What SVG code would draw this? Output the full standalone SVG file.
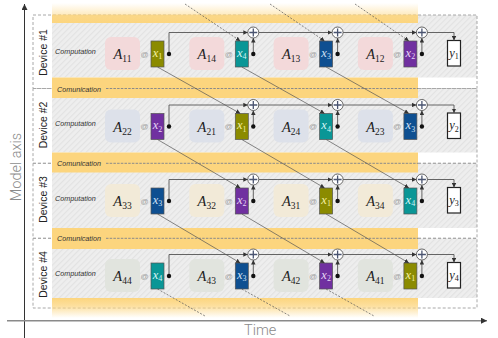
<svg xmlns="http://www.w3.org/2000/svg" width="498" height="338" viewBox="0 0 498 338">
<style>
.box{fill:none;stroke:#a8a8a8;stroke-width:1;stroke-dasharray:3 2}
.gray{fill:url(#hatch)}
.comm{fill:#fcd57e}
.cdash{stroke:#8a8a8a;stroke-width:1;stroke-dasharray:2.5 1.2;fill:none}
.lbl{font-family:"Liberation Sans",Arial,sans-serif;font-style:italic;font-size:7.2px;fill:#333}
.dev{font-family:"Liberation Sans",Arial,sans-serif;font-size:10.5px;fill:#222}
.ax{font-family:Roboto,"Liberation Sans",sans-serif;font-weight:300;font-size:14.5px;fill:#8a8a8a}
.m{font-family:"Liberation Serif","Times New Roman",serif;font-style:italic;font-size:14.5px;fill:#222}
.s{font-size:9.5px;font-style:normal}
.xs{font-size:8px;font-style:normal}
.xl{font-family:"Liberation Serif","Times New Roman",serif;font-style:italic;font-size:12.5px}
.at{font-family:"Liberation Sans",Arial,sans-serif;font-size:8px;fill:#a0a0a0}
.r1{fill:#f3d9da}.r2{fill:#dde1ea}.r3{fill:#f2ead8}.r4{fill:#e1e4de}
.v1{fill:#8b8b00}.v2{fill:#7030a0}.v3{fill:#0e4f91}.v4{fill:#0a9696}
.t1{fill:#f4f0a0}.t2{fill:#e6d6f5}.t3{fill:#cfe0f5}.t4{fill:#d6f5f5}
.vec{stroke:#555;stroke-width:0.7}
.dot{fill:#111}
.plus circle{fill:#fff;stroke:#555;stroke-width:0.9}
.plus path{stroke:#4a5470;stroke-width:1.3;fill:none}
.ybox{fill:#fff;stroke:#222;stroke-width:1.2}
.ln{fill:none;stroke:#555;stroke-width:0.9;marker-end:url(#arr)}
.dg{fill:none;stroke:#555;stroke-width:0.7;marker-end:url(#arr)}
.dgd{fill:none;stroke:#555;stroke-width:0.7;stroke-dasharray:2 1.5}
</style>
<defs>
<pattern id="hatch" width="4" height="4" patternUnits="userSpaceOnUse" patternTransform="rotate(45)">
<rect width="4" height="4" fill="#eeeeee"/>
<line x1="0.5" y1="0" x2="0.5" y2="4" stroke="#e2e2e2" stroke-width="1.2"/>
</pattern>
<linearGradient id="gTop" x1="0" y1="0" x2="0" y2="1">
<stop offset="0" stop-color="#fcd57e" stop-opacity="0"/>
<stop offset="0.55" stop-color="#fcd57e" stop-opacity="0.45"/>
<stop offset="0.62" stop-color="#fcd57e" stop-opacity="0.9"/>
<stop offset="1" stop-color="#fcd57e" stop-opacity="1"/>
</linearGradient>
<linearGradient id="gBot" x1="0" y1="0" x2="0" y2="1">
<stop offset="0" stop-color="#fcd57e" stop-opacity="1"/>
<stop offset="0.4" stop-color="#fcd57e" stop-opacity="0.75"/>
<stop offset="1" stop-color="#fcd57e" stop-opacity="0"/>
</linearGradient>
<marker id="arr" viewBox="0 0 6 6" refX="6" refY="3" markerWidth="4.5" markerHeight="4.5" markerUnits="userSpaceOnUse" orient="auto">
<path d="M0,0 L6,3 L0,6 z" fill="#333"/>
</marker>
<marker id="axarr" viewBox="0 0 8 8" refX="8" refY="4" markerWidth="6" markerHeight="6" markerUnits="userSpaceOnUse" orient="auto">
<path d="M0,0 L8,4 L0,8 z" fill="#333"/>
</marker>
</defs>

<g id="background">
<rect class="gray" x="52" y="15" width="425" height="62.5"/>
<rect class="gray" x="52" y="88.5" width="425" height="64"/>
<rect class="gray" x="52" y="163.3" width="425" height="64.7"/>
<rect class="gray" x="52" y="238.3" width="425" height="59.7"/>
</g>

<g id="devices">
<g id="device1"><rect class="box" x="33" y="15" width="444" height="73.5"/><text class="dev" transform="translate(47,52.5) rotate(-90)" text-anchor="middle">Device #1</text></g>
<g id="device2"><rect class="box" x="33" y="88.5" width="444" height="74.8"/><text class="dev" transform="translate(47,125) rotate(-90)" text-anchor="middle">Device #2</text></g>
<g id="device3"><rect class="box" x="33" y="163.3" width="444" height="75"/><text class="dev" transform="translate(47,199.5) rotate(-90)" text-anchor="middle">Device #3</text></g>
<g id="device4"><rect class="box" x="33" y="238.3" width="444" height="69.7"/><text class="dev" transform="translate(47,274.5) rotate(-90)" text-anchor="middle">Device #4</text></g>
</g>

<g id="communication">
<rect x="52" y="3" width="366" height="20" fill="url(#gTop)"/>
<rect class="comm" x="52" y="77.5" width="366" height="20.5"/>
<rect class="comm" x="52" y="152.5" width="366" height="20"/>
<rect class="comm" x="52" y="228" width="366" height="21"/>
<rect x="52" y="298" width="366" height="20" fill="url(#gBot)"/>
<path class="cdash" d="M106,88.5 H418 M106,163.3 H418 M106,238.3 H418"/>
<text class="lbl" x="57" y="91.5">Comunication</text>
<text class="lbl" x="57" y="165.8">Comunication</text>
<text class="lbl" x="57" y="240.8">Comunication</text>
</g>

<g id="computation-labels">
<text class="lbl" x="55" y="53.5">Computation</text>
<text class="lbl" x="55" y="126">Computation</text>
<text class="lbl" x="55" y="200.5">Computation</text>
<text class="lbl" x="55" y="275.5">Computation</text>
</g>

<g id="A11"><rect class="r1" x="105" y="37" width="35" height="33" rx="6"/><text class="m" x="122.5" y="59" text-anchor="middle">A<tspan class="s" dy="3">11</tspan></text></g>
<g id="A14"><rect class="r1" x="189.3" y="37" width="35" height="33" rx="6"/><text class="m" x="206.8" y="59" text-anchor="middle">A<tspan class="s" dy="3">14</tspan></text></g>
<g id="A13"><rect class="r1" x="273.6" y="37" width="35" height="33" rx="6"/><text class="m" x="291.1" y="59" text-anchor="middle">A<tspan class="s" dy="3">13</tspan></text></g>
<g id="A12"><rect class="r1" x="357.9" y="37" width="35" height="33" rx="6"/><text class="m" x="375.4" y="59" text-anchor="middle">A<tspan class="s" dy="3">12</tspan></text></g>
<g id="d1-ats"><text class="at" x="144.5" y="56.5" text-anchor="middle">@</text><text class="at" x="228.8" y="56.5" text-anchor="middle">@</text><text class="at" x="313.1" y="56.5" text-anchor="middle">@</text><text class="at" x="397.4" y="56.5" text-anchor="middle">@</text></g>
<g id="d1-x1"><rect class="vec v1" x="151" y="41" width="13" height="26"/><text class="xl t1" x="157.5" y="56.5" text-anchor="middle">x<tspan class="xs" dy="2.5">1</tspan></text></g>
<g id="d1-x4"><rect class="vec v4" x="235.3" y="41" width="13" height="26"/><text class="xl t4" x="241.8" y="56.5" text-anchor="middle">x<tspan class="xs" dy="2.5">4</tspan></text></g>
<g id="d1-x3"><rect class="vec v3" x="319.6" y="41" width="13" height="26"/><text class="xl t3" x="326.1" y="56.5" text-anchor="middle">x<tspan class="xs" dy="2.5">3</tspan></text></g>
<g id="d1-x2"><rect class="vec v2" x="403.9" y="41" width="13" height="26"/><text class="xl t2" x="410.4" y="56.5" text-anchor="middle">x<tspan class="xs" dy="2.5">2</tspan></text></g>
<g id="d1-plus1" class="plus"><circle cx="253.3" cy="32.5" r="5.5"/><path d="M249.3,32.5 H257.3 M253.3,28.5 V36.5"/></g>
<g id="d1-plus2" class="plus"><circle cx="337.6" cy="32.5" r="5.5"/><path d="M333.6,32.5 H341.6 M337.6,28.5 V36.5"/></g>
<g id="d1-plus3" class="plus"><circle cx="421.9" cy="32.5" r="5.5"/><path d="M417.9,32.5 H425.9 M421.9,28.5 V36.5"/></g>
<g id="y1"><rect class="ybox" x="447.5" y="40.5" width="13" height="25.5"/><text class="xl" fill="#222" x="454" y="56.5" text-anchor="middle">y<tspan class="xs" dy="2.5">1</tspan></text></g>

<g id="A22"><rect class="r2" x="105" y="109.5" width="35" height="33" rx="6"/><text class="m" x="122.5" y="131.5" text-anchor="middle">A<tspan class="s" dy="3">22</tspan></text></g>
<g id="A21"><rect class="r2" x="189.3" y="109.5" width="35" height="33" rx="6"/><text class="m" x="206.8" y="131.5" text-anchor="middle">A<tspan class="s" dy="3">21</tspan></text></g>
<g id="A24"><rect class="r2" x="273.6" y="109.5" width="35" height="33" rx="6"/><text class="m" x="291.1" y="131.5" text-anchor="middle">A<tspan class="s" dy="3">24</tspan></text></g>
<g id="A23"><rect class="r2" x="357.9" y="109.5" width="35" height="33" rx="6"/><text class="m" x="375.4" y="131.5" text-anchor="middle">A<tspan class="s" dy="3">23</tspan></text></g>
<g id="d2-ats"><text class="at" x="144.5" y="129" text-anchor="middle">@</text><text class="at" x="228.8" y="129" text-anchor="middle">@</text><text class="at" x="313.1" y="129" text-anchor="middle">@</text><text class="at" x="397.4" y="129" text-anchor="middle">@</text></g>
<g id="d2-x2"><rect class="vec v2" x="151" y="113.5" width="13" height="26"/><text class="xl t2" x="157.5" y="129" text-anchor="middle">x<tspan class="xs" dy="2.5">2</tspan></text></g>
<g id="d2-x1"><rect class="vec v1" x="235.3" y="113.5" width="13" height="26"/><text class="xl t1" x="241.8" y="129" text-anchor="middle">x<tspan class="xs" dy="2.5">1</tspan></text></g>
<g id="d2-x4"><rect class="vec v4" x="319.6" y="113.5" width="13" height="26"/><text class="xl t4" x="326.1" y="129" text-anchor="middle">x<tspan class="xs" dy="2.5">4</tspan></text></g>
<g id="d2-x3"><rect class="vec v3" x="403.9" y="113.5" width="13" height="26"/><text class="xl t3" x="410.4" y="129" text-anchor="middle">x<tspan class="xs" dy="2.5">3</tspan></text></g>
<g id="d2-plus1" class="plus"><circle cx="253.3" cy="105" r="5.5"/><path d="M249.3,105 H257.3 M253.3,101 V109"/></g>
<g id="d2-plus2" class="plus"><circle cx="337.6" cy="105" r="5.5"/><path d="M333.6,105 H341.6 M337.6,101 V109"/></g>
<g id="d2-plus3" class="plus"><circle cx="421.9" cy="105" r="5.5"/><path d="M417.9,105 H425.9 M421.9,101 V109"/></g>
<g id="y2"><rect class="ybox" x="447.5" y="113" width="13" height="25.5"/><text class="xl" fill="#222" x="454" y="129" text-anchor="middle">y<tspan class="xs" dy="2.5">2</tspan></text></g>

<g id="A33"><rect class="r3" x="105" y="184" width="35" height="33" rx="6"/><text class="m" x="122.5" y="206" text-anchor="middle">A<tspan class="s" dy="3">33</tspan></text></g>
<g id="A32"><rect class="r3" x="189.3" y="184" width="35" height="33" rx="6"/><text class="m" x="206.8" y="206" text-anchor="middle">A<tspan class="s" dy="3">32</tspan></text></g>
<g id="A31"><rect class="r3" x="273.6" y="184" width="35" height="33" rx="6"/><text class="m" x="291.1" y="206" text-anchor="middle">A<tspan class="s" dy="3">31</tspan></text></g>
<g id="A34"><rect class="r3" x="357.9" y="184" width="35" height="33" rx="6"/><text class="m" x="375.4" y="206" text-anchor="middle">A<tspan class="s" dy="3">34</tspan></text></g>
<g id="d3-ats"><text class="at" x="144.5" y="203.5" text-anchor="middle">@</text><text class="at" x="228.8" y="203.5" text-anchor="middle">@</text><text class="at" x="313.1" y="203.5" text-anchor="middle">@</text><text class="at" x="397.4" y="203.5" text-anchor="middle">@</text></g>
<g id="d3-x3"><rect class="vec v3" x="151" y="188" width="13" height="26"/><text class="xl t3" x="157.5" y="203.5" text-anchor="middle">x<tspan class="xs" dy="2.5">3</tspan></text></g>
<g id="d3-x2"><rect class="vec v2" x="235.3" y="188" width="13" height="26"/><text class="xl t2" x="241.8" y="203.5" text-anchor="middle">x<tspan class="xs" dy="2.5">2</tspan></text></g>
<g id="d3-x1"><rect class="vec v1" x="319.6" y="188" width="13" height="26"/><text class="xl t1" x="326.1" y="203.5" text-anchor="middle">x<tspan class="xs" dy="2.5">1</tspan></text></g>
<g id="d3-x4"><rect class="vec v4" x="403.9" y="188" width="13" height="26"/><text class="xl t4" x="410.4" y="203.5" text-anchor="middle">x<tspan class="xs" dy="2.5">4</tspan></text></g>
<g id="d3-plus1" class="plus"><circle cx="253.3" cy="179.5" r="5.5"/><path d="M249.3,179.5 H257.3 M253.3,175.5 V183.5"/></g>
<g id="d3-plus2" class="plus"><circle cx="337.6" cy="179.5" r="5.5"/><path d="M333.6,179.5 H341.6 M337.6,175.5 V183.5"/></g>
<g id="d3-plus3" class="plus"><circle cx="421.9" cy="179.5" r="5.5"/><path d="M417.9,179.5 H425.9 M421.9,175.5 V183.5"/></g>
<g id="y3"><rect class="ybox" x="447.5" y="187.5" width="13" height="25.5"/><text class="xl" fill="#222" x="454" y="203.5" text-anchor="middle">y<tspan class="xs" dy="2.5">3</tspan></text></g>

<g id="A44"><rect class="r4" x="105" y="259" width="35" height="33" rx="6"/><text class="m" x="122.5" y="281" text-anchor="middle">A<tspan class="s" dy="3">44</tspan></text></g>
<g id="A43"><rect class="r4" x="189.3" y="259" width="35" height="33" rx="6"/><text class="m" x="206.8" y="281" text-anchor="middle">A<tspan class="s" dy="3">43</tspan></text></g>
<g id="A42"><rect class="r4" x="273.6" y="259" width="35" height="33" rx="6"/><text class="m" x="291.1" y="281" text-anchor="middle">A<tspan class="s" dy="3">42</tspan></text></g>
<g id="A41"><rect class="r4" x="357.9" y="259" width="35" height="33" rx="6"/><text class="m" x="375.4" y="281" text-anchor="middle">A<tspan class="s" dy="3">41</tspan></text></g>
<g id="d4-ats"><text class="at" x="144.5" y="278.5" text-anchor="middle">@</text><text class="at" x="228.8" y="278.5" text-anchor="middle">@</text><text class="at" x="313.1" y="278.5" text-anchor="middle">@</text><text class="at" x="397.4" y="278.5" text-anchor="middle">@</text></g>
<g id="d4-x4"><rect class="vec v4" x="151" y="263" width="13" height="26"/><text class="xl t4" x="157.5" y="278.5" text-anchor="middle">x<tspan class="xs" dy="2.5">4</tspan></text></g>
<g id="d4-x3"><rect class="vec v3" x="235.3" y="263" width="13" height="26"/><text class="xl t3" x="241.8" y="278.5" text-anchor="middle">x<tspan class="xs" dy="2.5">3</tspan></text></g>
<g id="d4-x2"><rect class="vec v2" x="319.6" y="263" width="13" height="26"/><text class="xl t2" x="326.1" y="278.5" text-anchor="middle">x<tspan class="xs" dy="2.5">2</tspan></text></g>
<g id="d4-x1"><rect class="vec v1" x="403.9" y="263" width="13" height="26"/><text class="xl t1" x="410.4" y="278.5" text-anchor="middle">x<tspan class="xs" dy="2.5">1</tspan></text></g>
<g id="d4-plus1" class="plus"><circle cx="253.3" cy="254.5" r="5.5"/><path d="M249.3,254.5 H257.3 M253.3,250.5 V258.5"/></g>
<g id="d4-plus2" class="plus"><circle cx="337.6" cy="254.5" r="5.5"/><path d="M333.6,254.5 H341.6 M337.6,250.5 V258.5"/></g>
<g id="d4-plus3" class="plus"><circle cx="421.9" cy="254.5" r="5.5"/><path d="M417.9,254.5 H425.9 M421.9,250.5 V258.5"/></g>
<g id="y4"><rect class="ybox" x="447.5" y="262.5" width="13" height="25.5"/><text class="xl" fill="#222" x="454" y="278.5" text-anchor="middle">y<tspan class="xs" dy="2.5">4</tspan></text></g>

<g id="connectors">
<path class="ln" d="M169,54 V32.5 H247.8"/><path class="ln" d="M258.8,32.5 H332.1"/><path class="ln" d="M343.1,32.5 H416.4"/><path class="ln" d="M427.4,32.5 H454 V40.5"/>
<path class="ln" d="M253.3,54 V38"/><path class="ln" d="M337.6,54 V38"/><path class="ln" d="M421.9,54 V38"/>
<path class="ln" d="M169,126.5 V105 H247.8"/><path class="ln" d="M258.8,105 H332.1"/><path class="ln" d="M343.1,105 H416.4"/><path class="ln" d="M427.4,105 H454 V113"/>
<path class="ln" d="M253.3,126.5 V110.5"/><path class="ln" d="M337.6,126.5 V110.5"/><path class="ln" d="M421.9,126.5 V110.5"/>
<path class="ln" d="M169,201 V179.5 H247.8"/><path class="ln" d="M258.8,179.5 H332.1"/><path class="ln" d="M343.1,179.5 H416.4"/><path class="ln" d="M427.4,179.5 H454 V187.5"/>
<path class="ln" d="M253.3,201 V185"/><path class="ln" d="M337.6,201 V185"/><path class="ln" d="M421.9,201 V185"/>
<path class="ln" d="M169,276 V254.5 H247.8"/><path class="ln" d="M258.8,254.5 H332.1"/><path class="ln" d="M343.1,254.5 H416.4"/><path class="ln" d="M427.4,254.5 H454 V262.5"/>
<path class="ln" d="M253.3,276 V260"/><path class="ln" d="M337.6,276 V260"/><path class="ln" d="M421.9,276 V260"/>
<circle class="dot" cx="169" cy="54" r="2.2"/><circle class="dot" cx="253.3" cy="54" r="2.2"/><circle class="dot" cx="337.6" cy="54" r="2.2"/><circle class="dot" cx="421.9" cy="54" r="2.2"/>
<circle class="dot" cx="169" cy="126.5" r="2.2"/><circle class="dot" cx="253.3" cy="126.5" r="2.2"/><circle class="dot" cx="337.6" cy="126.5" r="2.2"/><circle class="dot" cx="421.9" cy="126.5" r="2.2"/>
<circle class="dot" cx="169" cy="201" r="2.2"/><circle class="dot" cx="253.3" cy="201" r="2.2"/><circle class="dot" cx="337.6" cy="201" r="2.2"/><circle class="dot" cx="421.9" cy="201" r="2.2"/>
<circle class="dot" cx="169" cy="276" r="2.2"/><circle class="dot" cx="253.3" cy="276" r="2.2"/><circle class="dot" cx="337.6" cy="276" r="2.2"/><circle class="dot" cx="421.9" cy="276" r="2.2"/>
<path class="dg" d="M157.5,67 L240.3,113.5"/><path class="dg" d="M241.8,67 L324.6,113.5"/><path class="dg" d="M326.1,67 L408.9,113.5"/>
<path class="dg" d="M157.5,139.5 L240.3,188"/><path class="dg" d="M241.8,139.5 L324.6,188"/><path class="dg" d="M326.1,139.5 L408.9,188"/>
<path class="dg" d="M157.5,214 L240.3,263"/><path class="dg" d="M241.8,214 L324.6,263"/><path class="dg" d="M326.1,214 L408.9,263"/>
<path class="dgd" d="M185,4 L240.3,41" marker-end="url(#arr)"/><path class="dgd" d="M270,4 L324.6,41" marker-end="url(#arr)"/><path class="dgd" d="M355,4 L408.9,41" marker-end="url(#arr)"/>
<path class="dgd" d="M157.5,289 L205,316"/><path class="dgd" d="M241.8,289 L290,316"/><path class="dgd" d="M326.1,289 L374,316"/>
</g>

<g id="axes">
<line x1="24.5" y1="338" x2="24.5" y2="4" stroke="#333" stroke-width="1" marker-end="url(#axarr)"/>
<line x1="7" y1="320.7" x2="487" y2="320.7" stroke="#8a8a8a" stroke-width="1.5" marker-end="url(#axarr)"/>
<text class="ax" transform="translate(21,167) rotate(-90)" text-anchor="middle">Model axis</text>
<text class="ax" x="244" y="335">Time</text>
</g>
</svg>
